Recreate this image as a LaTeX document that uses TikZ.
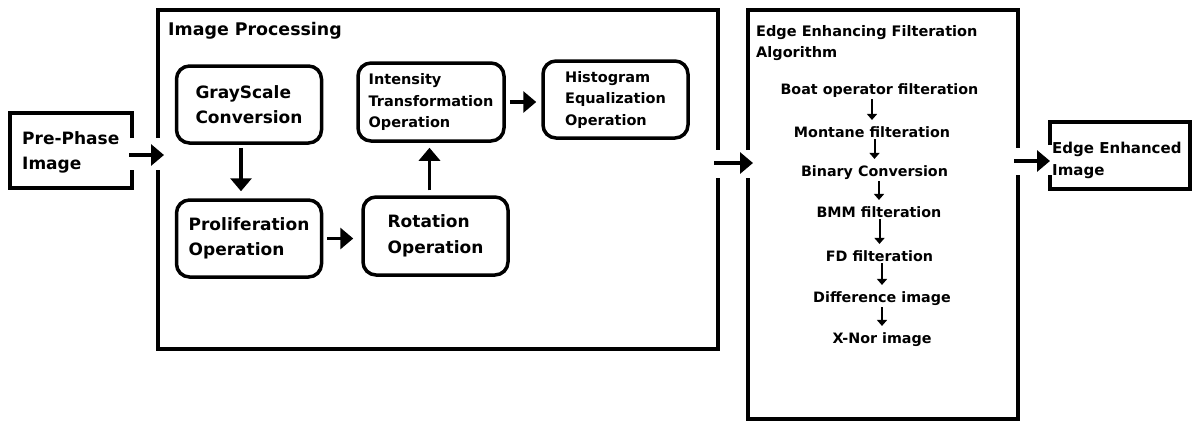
\documentclass[tikz,border=0pt]{standalone}
\usepackage{fontspec}
\setmainfont{DejaVu Sans}
\usepackage{tikz}
\usetikzlibrary{arrows.meta}

\tikzset{
  frame/.style={line width=4pt},
  opbox/.style={draw, line width=3.5pt, rounded corners=13pt, align=left,
    minimum width=145pt, minimum height=77pt, font=\bfseries\fontsize{17}{25.5}\selectfont},
  smallbox/.style={opbox, font=\bfseries\fontsize{14.5}{21.5}\selectfont},
  lbl/.style={inner sep=0pt, align=left, anchor=north west},
  stage/.style={inner sep=2pt, anchor=base, font=\bfseries\fontsize{14.3}{17}\selectfont},
  flow/.style={line width=3.5pt, -{Triangle[length=13pt,width=21pt]}},
  subflow/.style={line width=2pt, -{Triangle[length=6pt,width=10pt]}},
}

\begin{document}
\begin{tikzpicture}[x=1pt,y=-1pt]
  % Boundary
  \useasboundingbox (0,0) rectangle (1192,421);
  % Frames
  \draw[frame] (132,138) |- (10,113) |- (132,188) -- (132,170);
  \draw[frame] (158,138) |- (718,10) -- (718,150);
  \draw[frame] (718,178) |- (158,349) -- (158,170);
  \draw[frame] (748,150) |- (1018,10) -- (1018,148);
  \draw[frame] (1018,175) |- (748,419) -- (748,178);
  \draw[frame] (1050,145) |- (1190,122) |- (1050,189) -- (1050,175);
  % Frame labels
  \node[lbl, font=\bfseries\fontsize{17}{25}\selectfont] (pre) at (22,131) {Pre-Phase\\Image};
  \node[lbl, font=\bfseries\fontsize{17.4}{25}\selectfont] (iptitle) at (168,22) {Image Processing};
  \node[lbl, font=\bfseries\fontsize{14.5}{21}\selectfont] (eftitle) at (756,25) {Edge Enhancing Filteration\\Algorithm};
  \node[lbl, font=\bfseries\fontsize{15}{22}\selectfont] (out) at (1052,142) {Edge Enhanced\\Image};
  % Connector ends on the frames
  \coordinate (preout) at (129,155);
  \coordinate (ipin) at (164,155);
  \coordinate (ipout) at (714,163);
  \coordinate (efin) at (753,163);
  \coordinate (efout) at (1014,161);
  \coordinate (outin) at (1050,161);
  % Image processing steps
  \node[opbox] (gray) at (249,104.5) {GrayScale\\Conversion};
  \node[opbox] (prolif) at (249,238.5) {Proliferation\\Operation};
  \node[opbox, minimum height=78pt] (rot) at (435.5,236) {Rotation\\Operation};
  \node[smallbox, minimum width=146pt, minimum height=78pt] (intens) at (431,102) {Intensity\\Transformation\\Operation};
  \node[smallbox] (hist) at (615.5,99.5) {Histogram\\Equalization\\Operation};
  % Filteration steps
  \node[stage] (boat) at (879.5,94) {Boat operator filteration};
  \node[stage] (montane) at (872,137) {Montane filteration};
  \node[stage] (binary) at (874.5,176) {Binary Conversion};
  \node[stage] (bmm) at (879,217) {BMM filteration};
  \node[stage] (fd) at (879.5,261) {FD filteration};
  \node[stage] (diff) at (882,302) {Difference image};
  \node[stage] (xnor) at (882,343) {X-Nor image};
  % Arrows
  \draw[flow] (preout) -- (ipin);
  \draw[flow] (ipout) -- (efin);
  \draw[flow] (efout) -- (outin);
  \draw[flow, shorten <=3pt, shorten >=7pt] ([xshift=-8pt]gray.south) -- ([xshift=-8pt]gray.south |- prolif.north);
  \draw[flow, shorten <=4pt, shorten >=8pt] (prolif.east) -- (prolif.east -| rot.west);
  \draw[flow, shorten <=5pt, shorten >=5pt] ([xshift=-6pt]rot.north) -- ([xshift=-6pt]rot.north |- intens.south);
  \draw[flow, shorten <=4pt, shorten >=5pt] (intens.east) -- (intens.east -| hist.west);
  \foreach \a/\b in {boat/montane, montane/binary, binary/bmm, bmm/fd, fd/diff, diff/xnor}
    \draw[subflow, shorten >=4pt] (\b.north |- \a.south) -- (\b.north);
\end{tikzpicture}
\end{document}
